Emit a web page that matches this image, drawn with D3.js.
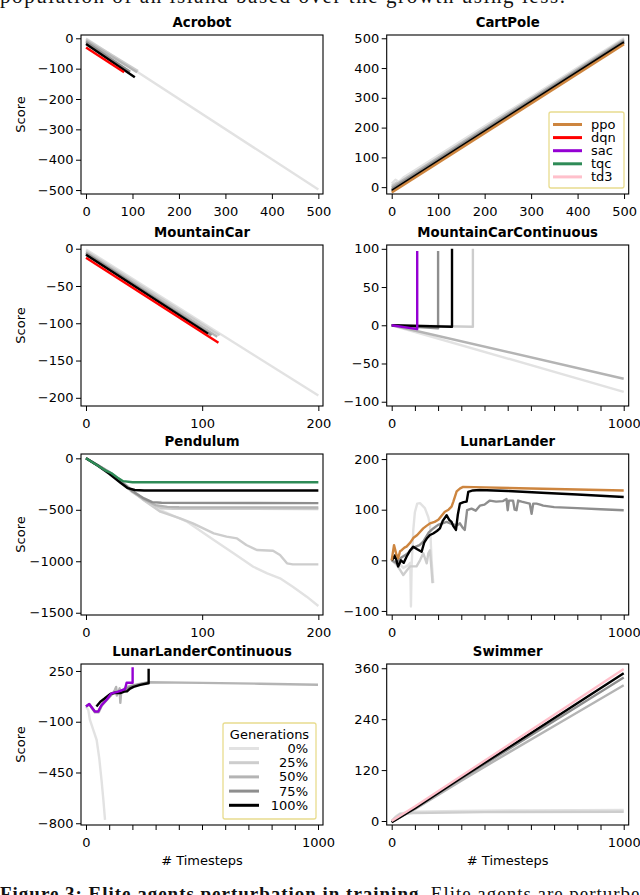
<!DOCTYPE html>
<html><head><meta charset="utf-8">
<script src="https://cdn.jsdelivr.net/npm/d3@7/dist/d3.min.js"></script>
<style>body{margin:0;background:#fff}svg{display:block}</style>
</head><body>
<svg id="c" width="640" height="895"></svg>
<script>
// ---------- labels ----------
const genLabels = ["0%", "25%", "50%", "75%", "100%"];
const algoLabels = ["ppo", "dqn", "sac", "tqc", "td3"];
const panelTitles = ["Acrobot", "CartPole", "MountainCar", "MountainCarContinuous",
  "Pendulum", "LunarLander", "LunarLanderContinuous", "Swimmer"];

// ---------- tick values ----------
const xTicks500 = [0, 100, 200, 300, 400, 500];
const xTicks200 = [0, 100, 200];
const xTicks1000 = [0, 100, 200, 300, 400, 500, 600, 700, 800, 900, 1000];
const xLabels1000 = [0, 1000];
const yTicksAcrobot = [0, -100, -200, -300, -400, -500];
const yTicksCartPole = [0, 100, 200, 300, 400, 500];
const yTicksMountainCar = [0, -50, -100, -150, -200];
const yTicksMCC = [100, 50, 0, -50, -100];
const yTicksPendulum = [0, -500, -1000, -1500];
const yTicksLunar = [200, 100, 0, -100];
const yTicksLLC = [250, -100, -450, -800];
const yTicksSwimmer = [0, 120, 240, 360];

// ---------- series (timestep, score) ----------
// Acrobot
const acrobotG0 = [[0, -1], [500, -498]];
const acrobotG25 = [[0, -3], [112, -108]];
const acrobotG50 = [[0, -7], [110, -112]];
const acrobotG75 = [[0, -12], [95, -110]];
const acrobotG100 = [[0, -19], [105, -128]];
const acrobotDqn = [[0, -30], [82, -112]];
// CartPole
const cartG0 = [[0, 12], [8, 25], [15, 18], [25, 32], [500, 500]];
const cartG25 = [[0, 5], [10, 15], [20, 8], [30, 25], [500, 497]];
const cartG50 = [[0, 0], [500, 494]];
const cartG75 = [[0, -6], [500, 491]];
const cartG100 = [[0, -12], [500, 487]];
const cartPpo = [[0, -18], [500, 480]];
// MountainCar
const mcG0 = [[0, -1], [200, -197]];
const mcG25 = [[0, -3], [115, -116]];
const mcG50 = [[0, -5], [113, -118]];
const mcG75 = [[0, -6], [108, -116]];
const mcG100 = [[0, -8], [105, -114]];
const mcDqn = [[0, -12], [114, -126]];
// MountainCarContinuous
const mccG0 = [[0, 0], [1000, -87]];
const mccG25 = [[0, 0], [1000, -70]];
const mccG50 = [[0, 0], [350, -2], [350, 100]];
const mccG75 = [[0, 0], [200, -4], [200, 97]];
const mccG100 = [[0, 0], [120, -1], [260, -2], [260, 100]];
const mccSac = [[0, 0], [110, -5], [110, 97]];
// Pendulum
const pendG0 = [[0, 0], [10, -65], [20, -130], [30, -215], [40, -310], [50, -400], [64, -502], [87, -616],
  [110, -794], [127, -923], [144, -1053], [156, -1118], [167, -1166], [178, -1247], [190, -1344], [200, -1435]];
const pendG25 = [[0, 0], [10, -65], [20, -130], [30, -220], [40, -320], [50, -410], [64, -518], [81, -583],
  [92, -632], [101, -680], [110, -729], [121, -761], [130, -778], [138, -842], [147, -891], [161, -898],
  [167, -940], [173, -1020], [178, -1030], [200, -1030]];
const pendG50 = [[0, 0], [10, -68], [20, -135], [30, -225], [40, -320], [50, -400], [60, -455], [70, -472],
  [80, -475], [200, -478]];
const pendG50b = [[0, 0], [10, -68], [20, -135], [30, -228], [40, -330], [55, -440], [65, -485], [75, -490],
  [200, -492]];
const pendG75 = [[0, 0], [10, -66], [20, -135], [30, -225], [40, -320], [50, -390], [57, -425], [65, -432],
  [200, -435]];
const pendG100 = [[0, 0], [10, -70], [20, -150], [30, -240], [36, -290], [42, -308], [50, -313], [200, -313]];
const pendTqc = [[0, 0], [10, -70], [17, -120], [22, -145], [28, -195], [32, -222], [40, -232], [200, -233]];
// LunarLander
const llG0 = [[0, 0], [15, 5], [30, -5], [50, -15], [70, -10], [80, -5], [83, -91], [86, -10], [93, 60],
  [100, 95], [110, 112], [122, 113], [143, 103], [158, 85], [165, 70], [172, 1], [179, -45]];
const llG25 = [[0, 0], [20, -8], [36, -19], [50, -29], [65, -20], [79, -12], [95, -12], [107, -12], [122, 0],
  [136, 14], [151, -6], [158, 14], [165, 20], [172, -20], [176, -45]];
const llG75 = [[0, 0], [20, -5], [40, 5], [64, 12], [93, 25], [120, 30], [136, 37], [160, 55], [179, 63],
  [200, 70], [237, 76], [258, 72], [280, 69], [294, 73], [305, 65], [315, 60], [325, 99], [344, 102],
  [362, 98], [380, 108], [400, 110], [423, 118], [450, 116], [480, 117], [495, 121], [500, 99], [505, 118],
  [523, 118], [530, 100], [538, 99], [545, 118], [560, 116], [595, 112], [603, 92], [610, 112], [624, 112],
  [640, 110], [653, 108], [700, 105], [800, 103], [900, 101], [1000, 99]];
const llG100 = [[0, 0], [15, 10], [25, -8], [28, -12], [40, 0], [52, -5], [64, 7], [80, 20], [93, 27],
  [110, 22], [129, 17], [140, 35], [151, 43], [165, 50], [179, 53], [195, 58], [208, 63], [220, 78],
  [237, 89], [248, 80], [258, 76], [265, 68], [277, 60], [285, 90], [294, 112], [310, 115], [323, 116],
  [330, 135], [350, 138], [380, 139], [500, 137], [667, 133], [800, 130], [1000, 125]];
const llPpo = [[0, 0], [10, 30], [20, 12], [28, 4], [36, 18], [43, 20], [55, 25], [64, 27], [80, 35],
  [93, 44], [110, 50], [136, 63], [150, 68], [165, 73], [185, 76], [201, 80], [215, 88], [229, 96],
  [245, 100], [258, 106], [265, 115], [272, 125], [280, 136], [295, 142], [308, 145], [400, 144],
  [600, 142], [800, 140], [1000, 138]];
// LunarLanderContinuous
const llcG0 = [[0, 5], [10, -20], [17, -88], [30, -150], [46, -226], [57, -350], [67, -502], [75, -640], [82, -776]];
const llcG50 = [[0, 5], [14, 20], [38, -35], [55, -35], [68, 10], [90, 50], [110, 85], [125, 120], [130, 140],
  [133, 80], [137, 100], [145, 130], [148, 30], [152, 110], [175, 140], [200, 150], [230, 160], [270, 172],
  [500, 168], [750, 162], [1000, 155]];
const llcG75 = [[0, 5], [14, 20], [38, -30], [53, -28], [68, 15], [90, 55], [110, 90], [135, 105], [160, 118],
  [200, 145], [240, 160], [270, 170]];
const llcG100 = [[45, 5], [62, 38], [80, 60], [105, 92], [125, 100], [148, 98], [165, 108], [177, 110],
  [190, 128], [205, 140], [234, 154], [268, 165], [270, 165], [270, 265]];
const llcSac = [[0, 5], [14, 22], [38, -30], [53, -30], [67, 15], [88, 50], [110, 96], [139, 108], [168, 124],
  [175, 169], [201, 169], [201, 275]];
// Swimmer
const swG0 = [[0, 0], [20, 12], [36, 18], [92, 22], [300, 24], [600, 25], [1000, 26]];
const swG25 = [[0, 0], [15, 8], [36, 16], [92, 19], [400, 21], [1000, 22]];
const swG50 = [[0, -2], [100, 28], [300, 95], [500, 160], [750, 240], [1000, 320]];
const swG75 = [[0, -3], [100, 30], [300, 100], [500, 168], [750, 253], [1000, 338]];
const swG100 = [[0, -3], [100, 30], [300, 102], [500, 172], [750, 260], [1000, 348]];
const swTd3 = [[0, 0], [100, 34], [300, 106], [500, 178], [750, 268], [1000, 358]];

// ---------- styles ----------
const genColors = ["#e2e2e2", "#cdcdcd", "#b4b4b4", "#8e8e8e", "#000000"];
const algoColors = ["#cd853f", "#ff0000", "#9400d3", "#2e8b57", "#ffc0cb"];
const FONT = "DejaVu Sans, Verdana, sans-serif";

// ---------- layout ----------
const colX = [81, 386.7], PW = 242;
const rows = [{ top: 35, h: 159 }, { top: 245, h: 161 }, { top: 454, h: 161 }, { top: 664, h: 161 }];

const G = (d, i) => ({ d, c: genColors[i] });
const A = (d, i) => ({ d, c: algoColors[i] });

const panels = [
  { xd: [-10.8, 510], yd: [-513, 10.9], xt: xTicks500, xl: xTicks500, yt: yTicksAcrobot,
    s: [G(acrobotG0, 0), G(acrobotG25, 1), G(acrobotG50, 2), G(acrobotG75, 3), G(acrobotG100, 4), A(acrobotDqn, 1)] },
  { xd: [-10.8, 510], yd: [-23, 511], xt: xTicks500, xl: xTicks500, yt: yTicksCartPole,
    s: [G(cartG0, 0), G(cartG25, 1), G(cartG50, 2), G(cartG75, 3), G(cartG100, 4), A(cartPpo, 0)] },
  { xd: [-4.3, 204], yd: [-211, 5], xt: xTicks200, xl: xTicks200, yt: yTicksMountainCar,
    s: [G(mcG0, 0), G(mcG25, 1), G(mcG50, 2), G(mcG75, 3), G(mcG100, 4), A(mcDqn, 1)] },
  { xd: [-21.5, 1021.5], yd: [-105.6, 105], xt: xTicks1000, xl: xLabels1000, yt: yTicksMCC,
    s: [G(mccG0, 0), G(mccG25, 2), G(mccG50, 1), G(mccG75, 3), G(mccG100, 4), A(mccSac, 2)] },
  { xd: [-4.3, 204], yd: [-1522, 42], xt: xTicks200, xl: xTicks200, yt: yTicksPendulum,
    s: [G(pendG0, 0), G(pendG25, 1), G(pendG50b, 1), G(pendG50, 2), G(pendG75, 3), G(pendG100, 4), A(pendTqc, 3)] },
  { xd: [-21.5, 1021.5], yd: [-108, 210], xt: xTicks1000, xl: xLabels1000, yt: yTicksLunar,
    s: [G(llG0, 0), G(llG25, 1), G(llG75, 3), G(llG100, 4), A(llPpo, 0)] },
  { xd: [-21.5, 1021.5], yd: [-812, 298], xt: xTicks1000, xl: xLabels1000, yt: yTicksLLC,
    s: [G(llcG0, 0), G(llcG50, 2), G(llcG75, 3), G(llcG100, 4), A(llcSac, 2)] },
  { xd: [-21.5, 1021.5], yd: [-9.4, 370], xt: xTicks1000, xl: xLabels1000, yt: yTicksSwimmer,
    s: [G(swG0, 0), G(swG25, 1), G(swG50, 2), G(swG75, 3), G(swG100, 4), A(swTd3, 4)] }
];

const svg = d3.select("#c");
const fmt = v => (v < 0 ? "\u2212" + Math.abs(v) : String(v));

// partially visible running text above and caption below the figure
svg.append("text").attr("x", 0).attr("y", 3).attr("font-family", "Liberation Serif, serif")
  .attr("font-size", 21).attr("fill", "#111").attr("textLength", 565).attr("lengthAdjust", "spacing")
  .text("population of an island based over the growth using less.");
const cap = svg.append("text").attr("x", 0).attr("y", 900).attr("font-family", "Liberation Serif, serif")
  .attr("font-size", 19).attr("fill", "#111").attr("textLength", 650).attr("lengthAdjust", "spacing");
cap.append("tspan").attr("font-weight", "bold").text("Figure 3: Elite agents perturbation in training.");
cap.append("tspan").text(" Elite agents are perturbed");

panels.forEach((p, i) => {
  const col = i % 2, row = Math.floor(i / 2);
  const L = colX[col], T = rows[row].top, H = rows[row].h;
  const x = d3.scaleLinear().domain(p.xd).range([L, L + PW]);
  const y = d3.scaleLinear().domain(p.yd).range([T + H, T]);
  const g = svg.append("g");
  const cid = "clip" + i;
  svg.append("clipPath").attr("id", cid).append("rect").attr("x", L).attr("y", T).attr("width", PW).attr("height", H);
  const line = d3.line().x(d => x(d[0])).y(d => y(d[1]));
  const lg = g.append("g").attr("clip-path", `url(#${cid})`);
  p.s.forEach(s => {
    lg.append("path").attr("d", line(s.d)).attr("fill", "none").attr("stroke", s.c)
      .attr("stroke-width", 2.4).attr("stroke-linejoin", "round").attr("stroke-linecap", "butt");
  });
  // axes
  const xa = d3.axisBottom(x).tickValues(p.xt).tickSize(5).tickPadding(7.5)
    .tickFormat(v => (p.xl.includes(v) ? fmt(v) : ""));
  const ya = d3.axisLeft(y).tickValues(p.yt).tickSize(5).tickPadding(2.5).tickFormat(fmt);
  const gx = g.append("g").attr("transform", `translate(0,${T + H})`).call(xa);
  const gy = g.append("g").attr("transform", `translate(${L},0)`).call(ya);
  [gx, gy].forEach(a => {
    a.select(".domain").remove();
    a.selectAll("line").attr("stroke", "#000").attr("stroke-width", 1);
    a.selectAll("text").attr("font-family", FONT).attr("font-size", 13).attr("fill", "#000");
  });
  g.append("rect").attr("x", L).attr("y", T).attr("width", PW).attr("height", H)
    .attr("fill", "none").attr("stroke", "#000").attr("stroke-width", 1.1);
  g.append("text").attr("x", L + PW / 2).attr("y", T - 8.5).attr("text-anchor", "middle")
    .attr("font-family", FONT).attr("font-weight", "bold").attr("font-size", 13.3).text(panelTitles[i]);
  if (col === 0) {
    g.append("text").attr("transform", `translate(25,${T + H / 2}) rotate(-90)`).attr("text-anchor", "middle")
      .attr("font-family", FONT).attr("font-size", 13).text("Score");
  }
  if (row === 3) {
    g.append("text").attr("x", L + PW / 2).attr("y", 865).attr("text-anchor", "middle")
      .attr("font-family", FONT).attr("font-size", 13).text("# Timesteps");
  }
  // legends
  if (i === 1) {
    const lgd = svg.append("g");
    lgd.append("rect").attr("x", 549).attr("y", 112).attr("width", 75).attr("height", 76).attr("rx", 2)
      .attr("fill", "#fff").attr("fill-opacity", 0.85).attr("stroke", "#e8dc8e").attr("stroke-width", 1.3);
    algoLabels.forEach((t, k) => {
      const yy = 124.5 + k * 13.1;
      lgd.append("line").attr("x1", 553).attr("x2", 582).attr("y1", yy).attr("y2", yy)
        .attr("stroke", algoColors[k]).attr("stroke-width", 3);
      lgd.append("text").attr("x", 591).attr("y", yy).attr("dy", "0.35em").attr("font-family", FONT)
        .attr("font-size", 13).text(t);
    });
  }
  if (i === 6) {
    const lgd = svg.append("g");
    lgd.append("rect").attr("x", 223).attr("y", 723).attr("width", 93).attr("height", 96).attr("rx", 2)
      .attr("fill", "#fff").attr("fill-opacity", 0.85).attr("stroke", "#e8dc8e").attr("stroke-width", 1.3);
    lgd.append("text").attr("x", 269.5).attr("y", 734).attr("dy", "0.35em").attr("text-anchor", "middle")
      .attr("font-family", FONT).attr("font-size", 13).text("Generations");
    genLabels.forEach((t, k) => {
      const yy = 748.5 + k * 14.2;
      lgd.append("line").attr("x1", 229).attr("x2", 259).attr("y1", yy).attr("y2", yy)
        .attr("stroke", genColors[k]).attr("stroke-width", 3);
      lgd.append("text").attr("x", 308).attr("y", yy).attr("dy", "0.35em").attr("text-anchor", "end")
        .attr("font-family", FONT).attr("font-size", 13).text(t);
    });
  }
});
</script>
</body></html>
